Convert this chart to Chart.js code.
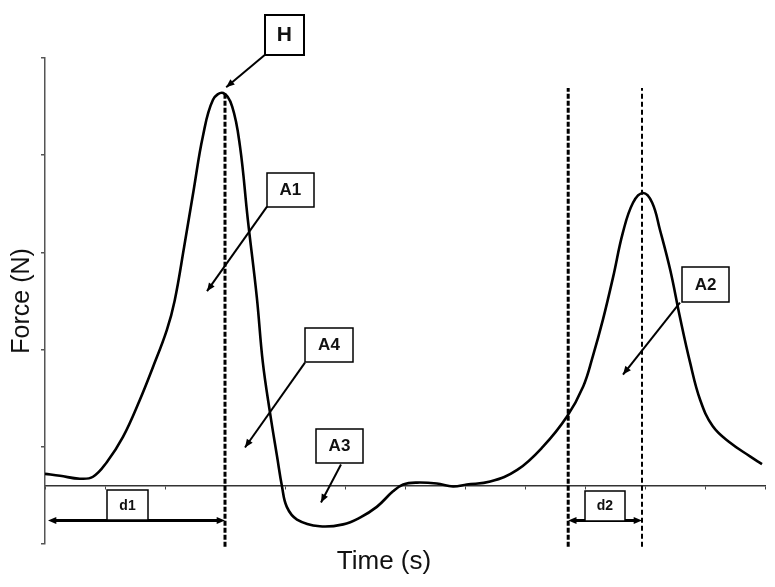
<!DOCTYPE html>
<html>
<head>
<meta charset="utf-8">
<script src="https://cdn.jsdelivr.net/npm/chart.js@4.4.1/dist/chart.umd.min.js"></script>
<style>
  html, body { margin: 0; padding: 0; background: #fff; }
  #wrap { width: 775px; height: 587px; }
</style>
</head>
<body>
<div id="wrap"><canvas id="tpaChart"></canvas></div>
<script>
// TPA curve
const timeValues = [0, 0.25, 0.58, 0.8, 1.03, 1.3, 1.58, 1.8, 2.03, 2.16, 2.32, 2.48, 2.63, 2.8, 2.97,
  3.12, 3.25, 3.38, 3.53, 3.63, 3.75, 3.87, 3.95, 4.03, 4.2, 4.58, 4.97, 5.25, 5.53, 5.8, 5.97,
  6.2, 6.53, 6.8, 7.03, 7.42, 7.87, 8.3, 8.7, 8.97, 9.13, 9.3, 9.47, 9.63, 9.8, 9.97, 10.12,
  10.25, 10.42, 10.58, 10.75, 10.92, 11.13, 11.42, 11.75, 11.95];
const forceValues = [0.12, 0.10, 0.07, 0.09, 0.24, 0.50, 0.88, 1.22, 1.60, 1.90, 2.46, 3.05, 3.59, 3.97, 4.04,
  3.90, 3.49, 2.74, 1.94, 1.27, 0.75, 0.29, -0.01, -0.22, -0.35, -0.42, -0.40, -0.33, -0.22, -0.06, 0.01,
  0.03, 0.02, -0.01, 0.01, 0.04, 0.16, 0.40, 0.71, 1.02, 1.33, 1.71, 2.15, 2.60, 2.91, 3.01, 2.91,
  2.63, 2.22, 1.74, 1.27, 0.88, 0.61, 0.44, 0.30, 0.22];

const xTicks = [0, 1, 2, 3, 4, 5, 6, 7, 8, 9, 10, 11, 12];
const yTicks = [-0.6, 0.4, 1.4, 2.4, 3.4, 4.4];

// vertical marker lines (time, top force)
const markerTimes = [3.0, 8.72, 9.95];
const markerTops = [4.04, 4.09, 4.09];
const markerBottom = -0.63;

const FONT = "Arial, 'Liberation Sans', sans-serif";

// labelled boxes: centre in data units, size in px
const boxes = [
  { text: "H",  x: 3.99,  y: 4.64,  w: 39, h: 40, size: 21, lw: 2 },
  { text: "A1", x: 4.09,  y: 3.045, w: 47, h: 34, size: 17, lw: 1.5 },
  { text: "A4", x: 4.733, y: 1.45,  w: 48, h: 34, size: 17, lw: 1.5 },
  { text: "A3", x: 4.908, y: 0.41,  w: 47, h: 34, size: 17, lw: 1.5 },
  { text: "A2", x: 11.01, y: 2.073, w: 47, h: 35, size: 17, lw: 1.5 },
  { text: "d1", x: 1.375, y: -0.2,  w: 41, h: 30, size: 14, lw: 1.5 },
  { text: "d2", x: 9.333, y: -0.206, w: 40, h: 30, size: 14, lw: 1.5 }
];

// pointer arrows: from -> to, in data units
const pointers = [
  { x1: 3.667, y1: 4.434, x2: 3.02, y2: 4.1 },
  { x1: 3.7,   y1: 2.87,  x2: 2.7,  y2: 2.0 },
  { x1: 4.333, y1: 1.265, x2: 3.333, y2: 0.391 },
  { x1: 4.933, y1: 0.216, x2: 4.6,  y2: -0.175 },
  { x1: 10.583, y1: 1.883, x2: 9.633, y2: 1.142 }
];

// double arrows for d1 / d2
const spans = [
  { x1: 0.05, x2: 3.0, y: -0.36 },
  { x1: 8.72, x2: 9.95, y: -0.36 }
];

function arrowHead(ctx, fx, fy, tx, ty, len) {
  const a = Math.atan2(ty - fy, tx - fx);
  ctx.beginPath();
  ctx.moveTo(tx, ty);
  ctx.lineTo(tx - len * Math.cos(a - 0.4), ty - len * Math.sin(a - 0.4));
  ctx.lineTo(tx - len * Math.cos(a + 0.4), ty - len * Math.sin(a + 0.4));
  ctx.closePath();
  ctx.fill();
}

const notesPlugin = {
  id: "notes",
  afterDatasetsDraw(chart) {
    const { ctx, scales: { x, y } } = chart;
    ctx.save();
    ctx.strokeStyle = "#000";
    ctx.fillStyle = "#000";
    ctx.lineWidth = 2;

    pointers.forEach(p => {
      const fx = x.getPixelForValue(p.x1), fy = y.getPixelForValue(p.y1);
      const tx = x.getPixelForValue(p.x2), ty = y.getPixelForValue(p.y2);
      ctx.beginPath();
      ctx.moveTo(fx, fy);
      ctx.lineTo(tx, ty);
      ctx.stroke();
      arrowHead(ctx, fx, fy, tx, ty, 9);
    });

    ctx.lineWidth = 3;
    spans.forEach(s => {
      const ax = x.getPixelForValue(s.x1), bx = x.getPixelForValue(s.x2);
      const py = y.getPixelForValue(s.y);
      ctx.beginPath();
      ctx.moveTo(ax + 4, py);
      ctx.lineTo(bx - 4, py);
      ctx.stroke();
      arrowHead(ctx, bx, py, ax, py, 9);
      arrowHead(ctx, ax, py, bx, py, 9);
    });

    boxes.forEach(b => {
      const cx = x.getPixelForValue(b.x), cy = y.getPixelForValue(b.y);
      const left = Math.round(cx - b.w / 2), top = Math.round(cy - b.h / 2);
      ctx.fillStyle = "#fff";
      ctx.fillRect(left, top, b.w, b.h);
      ctx.lineWidth = b.lw;
      ctx.strokeStyle = "#000";
      ctx.strokeRect(left, top, b.w, b.h);
      ctx.fillStyle = "#111";
      ctx.font = "bold " + b.size + "px " + FONT;
      ctx.textAlign = "center";
      ctx.textBaseline = "middle";
      ctx.fillText(b.text, cx, cy + 1);
    });
    ctx.restore();
  }
};

const curve = timeValues.map((t, i) => ({ x: t, y: forceValues[i] }));

const markerSets = markerTimes.map((t, i) => ({
  data: [{ x: t, y: markerBottom }, { x: t, y: markerTops[i] }],
  borderColor: "#000",
  borderWidth: i < 2 ? 3 : 2,
  borderDash: i < 2 ? [5, 2] : [5, 3],
  pointRadius: 0,
  tension: 0,
  clip: false
}));

new Chart(document.getElementById("tpaChart"), {
  type: "line",
  data: {
    datasets: [
      {
        data: curve,
        borderColor: "#000",
        borderWidth: 2.6,
        pointRadius: 0,
        tension: 0.4,
        fill: false
      },
      ...markerSets
    ]
  },
  options: {
    responsive: true,
    maintainAspectRatio: false,
    animation: false,
    layout: { padding: { top: 58, left: 3, right: 10, bottom: 0 } },
    scales: {
      x: {
        type: "linear",
        min: 0,
        max: 12,
        position: { y: 0 },
        afterBuildTicks: axis => { axis.ticks = xTicks.map(v => ({ value: v })); },
        ticks: { display: false },
        grid: { drawOnChartArea: false, tickLength: 3, color: "#444", lineWidth: 1 },
        border: { color: "#333", width: 1.5 }
      },
      y: {
        type: "linear",
        min: -0.6,
        max: 4.4,
        afterBuildTicks: axis => { axis.ticks = yTicks.map(v => ({ value: v })); },
        ticks: { display: false },
        grid: { drawOnChartArea: false, tickLength: 4, color: "#555", lineWidth: 1.5 },
        border: { color: "#555", width: 1.5 },
        title: {
          display: true,
          text: "Force (N)",
          color: "#111",
          font: { size: 25, family: FONT },
          padding: { top: 4, bottom: 4 }
        }
      }
    },
    plugins: {
      legend: { display: false },
      tooltip: { enabled: false },
      title: {
        display: true,
        position: "bottom",
        text: "Time (s)",
        color: "#111",
        font: { size: 26, weight: "normal", family: FONT },
        padding: { top: 2, bottom: 10 }
      }
    }
  },
  plugins: [notesPlugin]
});
</script>
</body>
</html>
